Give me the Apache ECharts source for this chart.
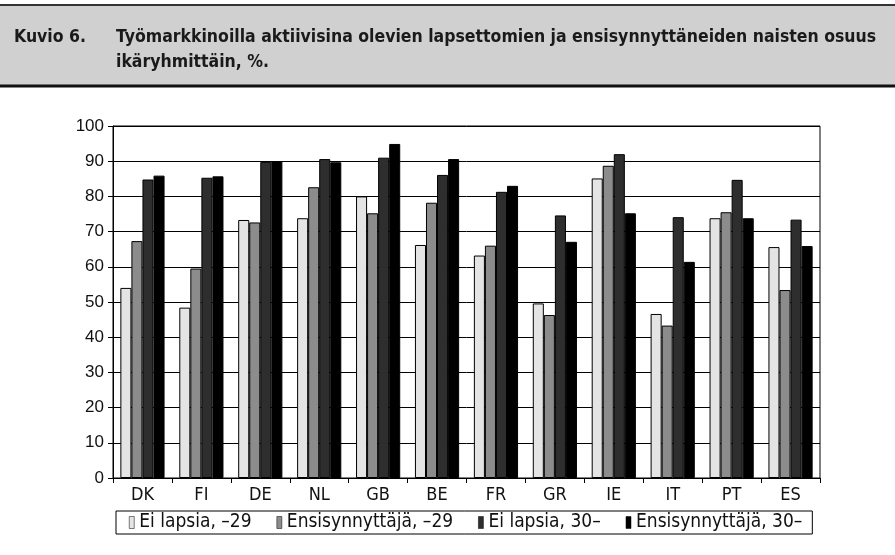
<!DOCTYPE html>
<html>
<head>
<meta charset="utf-8">
<script src="https://cdn.jsdelivr.net/npm/echarts@6/dist/echarts.min.js"></script>
<style>
html,body{margin:0;padding:0;background:#fff;}
#chart{width:895px;height:555px;}
</style>
</head>
<body>
<div id="chart"></div>
<script>
var categories = ['DK','FI','DE','NL','GB','BE','FR','GR','IE','IT','PT','ES'];
var seriesNames = ['Ei lapsia, –29','Ensisynnyttäjä, –29','Ei lapsia, 30–','Ensisynnyttäjä, 30–'];
var eiLapsia29 = [54, 48.4, 73.3, 73.8, 80, 66.2, 63.2, 49.6, 85.1, 46.6, 73.8, 65.6];
var ensisynnyttaja29 = [67.3, 59.5, 72.6, 82.6, 75.2, 78.2, 66, 46.3, 88.7, 43.3, 75.5, 53.4];
var eiLapsia30 = [84.8, 85.3, 89.8, 90.6, 91, 86.1, 81.3, 74.6, 92, 74.1, 84.7, 73.4];
var ensisynnyttaja30 = [85.9, 85.7, 90, 89.7, 94.9, 90.6, 83, 67.1, 75.2, 61.4, 73.8, 65.9];
var yTicks = [0,10,20,30,40,50,60,70,80,90,100];

var titleLabel = 'Kuvio 6.';
var titleText = 'Työmarkkinoilla aktiivisina olevien lapsettomien ja ensisynnyttäneiden naisten osuus\nikäryhmittäin, %.';

var colors = ['#e4e4e4','#8c8c8c','#2e2e2e','#000000'];
var valuesList = [eiLapsia29, ensisynnyttaja29, eiLapsia30, ensisynnyttaja30];

var condensed = '"DejaVu Sans Condensed","Liberation Sans Narrow",sans-serif';

var chart = echarts.init(document.getElementById('chart'), null, {renderer:'canvas'});
var option = {
  animation: false,
  backgroundColor: '#ffffff',
  graphic: [
    {type:'rect', left:0, top:5, shape:{width:895, height:81}, style:{fill:'#d0d0d0'}, z:-10},
    {type:'line', shape:{x1:0,y1:5,x2:895,y2:5}, style:{stroke:'#333',lineWidth:2}},
    {type:'line', shape:{x1:0,y1:86,x2:895,y2:86}, style:{stroke:'#111',lineWidth:3}}
  ],
  title: [
    {text: titleLabel, left: 14, top: 25, padding:0, textStyle:{fontFamily:condensed, fontWeight:'bold', fontSize:17.5, lineHeight:25, color:'#1a1a1a'}},
    {text: titleText, left: 116, top: 25, padding:0, textStyle:{fontFamily:condensed, fontWeight:'bold', fontSize:17.5, lineHeight:25, color:'#1a1a1a'}}
  ],
  legend: {
    data: seriesNames,
    left: 116, top: 511,
    itemWidth: 5, itemHeight: 12,
    itemGap: 25,
    icon: 'rect',
    borderColor: '#000', borderWidth: 1,
    padding: [2, 10, 2, 13],
    textStyle: {fontFamily: condensed, fontSize: 19, color:'#111'},
    itemStyle: {borderColor:'#000', borderWidth:0.5}
  },
  grid: {left:113, right:75, top:126, bottom:77, show:true, borderColor:'#000', borderWidth:1, backgroundColor:'transparent'},
  xAxis: {
    type:'category', data: categories,
    axisLine:{lineStyle:{color:'#000', width:1}},
    axisTick:{show:true, length:5, lineStyle:{color:'#000'}},
    axisLabel:{fontFamily:condensed, fontSize:18, color:'#111', margin:8}
  },
  yAxis: {
    type:'value', min:0, max:100, interval:10,
    axisLine:{show:true, lineStyle:{color:'#000', width:1}},
    axisTick:{show:true, length:5, lineStyle:{color:'#000'}},
    splitLine:{show:true, lineStyle:{color:'#000', width:1}},
    axisLabel:{fontFamily:'"Liberation Sans",sans-serif', fontSize:17, color:'#111', margin:9}
  },
  series: valuesList.map(function(vals, i){
    return {
      name: seriesNames[i], type:'bar', data: vals,
      barGap:'0%', barCategoryGap:'25%',
      itemStyle:{color: colors[i], borderColor:'#000', borderWidth:1}
    };
  })
};
chart.setOption(option);
</script>
</body>
</html>
